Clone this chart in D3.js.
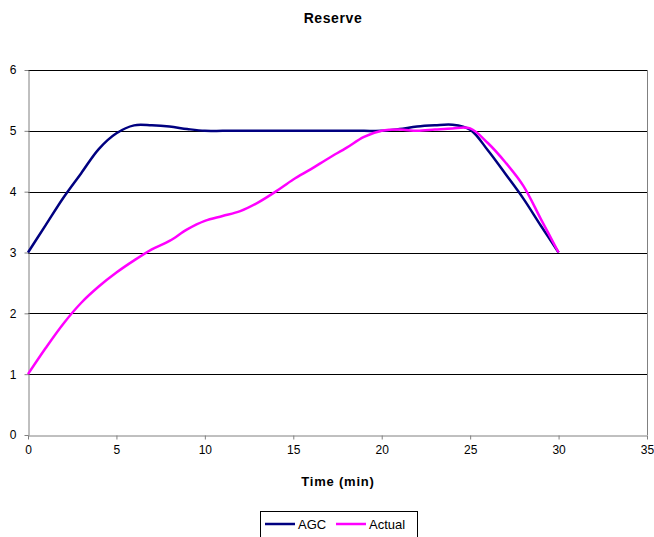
<!DOCTYPE html>
<html>
<head>
<meta charset="utf-8">
<script src="https://cdn.jsdelivr.net/npm/d3@7"></script>
<style>
  body { margin: 0; background: #fff; }
  svg { font-family: "Liberation Sans", Arial, sans-serif; }
</style>
</head>
<body>
<svg id="chart" width="654" height="537"></svg>
<script>
//// data
var minutes = d3.range(0, 31);
var agcValues = [3.0, 3.45, 3.9, 4.3, 4.7, 4.96, 5.09, 5.09, 5.07, 5.03, 5.0,
                 5.0, 5.0, 5.0, 5.0, 5.0, 5.0, 5.0, 5.0, 5.0, 5.0,
                 5.03, 5.07, 5.09, 5.1, 5.02, 4.68, 4.29, 3.89, 3.44, 3.0];
var actualValues = [1.0, 1.43, 1.83, 2.17, 2.44, 2.67, 2.87, 3.05, 3.19, 3.38, 3.52,
                    3.6, 3.68, 3.82, 4.0, 4.2, 4.37, 4.55, 4.72, 4.9, 5.0,
                    5.02, 5.0, 5.02, 5.04, 5.04, 4.8, 4.48, 4.1, 3.55, 3.0];
var seriesNames = ["AGC", "Actual"];
var seriesColors = ["#000080", "#ff00ff"];
var xTicks = [0, 5, 10, 15, 20, 25, 30, 35];
var yTicks = [0, 1, 2, 3, 4, 5, 6];

var svg = d3.select("svg#chart");

var x = d3.scaleLinear().domain([0, 35]).range([28, 647]);
var y = d3.scaleLinear().domain([0, 6]).range([435, 70]);

// title
svg.append("text")
   .attr("x", 333).attr("y", 23)
   .attr("text-anchor", "middle")
   .style("font-size", "14px").style("font-weight", "bold")
   .style("letter-spacing", "0.6px")
   .text("Reserve");

// grid lines
svg.append("g").selectAll("line")
   .data(yTicks.filter(function(d) { return d > 0; }))
   .enter().append("line")
   .attr("x1", x(0)).attr("x2", x(35))
   .attr("y1", function(d) { return Math.round(y(d)) + 0.5; })
   .attr("y2", function(d) { return Math.round(y(d)) + 0.5; })
   .attr("stroke", "#000").attr("stroke-width", 1);

// right border of plot area
svg.append("line")
   .attr("x1", Math.round(x(35)) + 0.5).attr("x2", Math.round(x(35)) + 0.5)
   .attr("y1", y(6)).attr("y2", y(0))
   .attr("stroke", "#808080");

// axes
var xAxis = svg.append("g")
   .attr("transform", "translate(0," + (Math.round(y(0)) + 0.5) + ")")
   .call(d3.axisBottom(x).tickValues(xTicks).tickFormat(d3.format("d"))
           .tickSize(4).tickSizeOuter(0).tickPadding(6));
var yAxis = svg.append("g")
   .attr("transform", "translate(" + (Math.round(x(0)) + 0.5) + ",0)")
   .call(d3.axisLeft(y).tickValues(yTicks).tickFormat(d3.format("d"))
           .tickSize(4).tickSizeOuter(0).tickPadding(8));

[xAxis, yAxis].forEach(function(a) {
  a.select(".domain").attr("stroke", "#808080");
  a.selectAll(".tick line").attr("stroke", "#808080");
  a.selectAll(".tick text")
   .style("font-size", "12px")
   .style("font-family", "Liberation Sans, Arial, sans-serif")
   .attr("fill", "#000");
});

// x axis title
svg.append("text")
   .attr("x", 338).attr("y", 486)
   .attr("text-anchor", "middle")
   .style("font-size", "13px").style("font-weight", "bold")
   .style("letter-spacing", "0.8px")
   .text("Time (min)");

// lines
var line = d3.line()
   .x(function(d) { return x(d[0]); })
   .y(function(d) { return y(d[1]); })
   .curve(d3.curveCatmullRom.alpha(0.5));

var series = [agcValues, actualValues];
svg.append("g").selectAll("path")
   .data(series)
   .enter().append("path")
   .attr("d", function(vals) { return line(minutes.map(function(m, i) { return [m, vals[i]]; })); })
   .attr("fill", "none")
   .attr("stroke", function(d, i) { return seriesColors[i]; })
   .attr("stroke-width", 2.5)
   .attr("stroke-linejoin", "round");

// legend
var legend = svg.append("g");
legend.append("rect")
   .attr("x", 260.5).attr("y", 511.5)
   .attr("width", 157).attr("height", 30)
   .attr("fill", "#fff").attr("stroke", "#000");

var legendX = [265, 336];
seriesNames.forEach(function(name, i) {
  legend.append("line")
     .attr("x1", legendX[i]).attr("x2", legendX[i] + 30)
     .attr("y1", 524).attr("y2", 524)
     .attr("stroke", seriesColors[i]).attr("stroke-width", 2.5);
  legend.append("text")
     .attr("x", legendX[i] + 33).attr("y", 528.5)
     .style("font-size", "13px")
     .text(name);
});
</script>
</body>
</html>
